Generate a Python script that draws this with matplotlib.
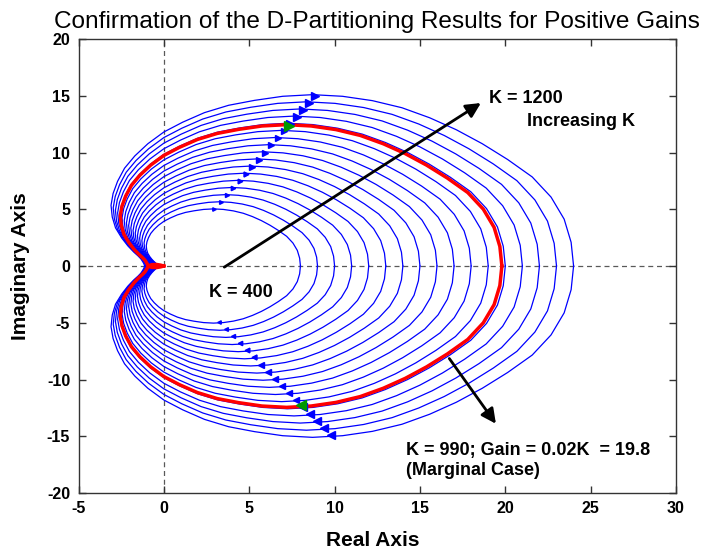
import matplotlib.pyplot as plt

plt.rcParams['font.family'] = ['Liberation Sans', 'DejaVu Sans']
plt.rcParams['axes.unicode_minus'] = False

# gains plotted: K = 400 ... 1200 in steps of 50, plus the marginal case
k_values = [400, 450, 500, 550, 600, 650, 700, 750, 800, 850, 900, 950,
            1000, 1050, 1100, 1150, 1200]
k_marginal = 990
gain_per_k = 0.02

# Nyquist locus, normalised by its DC gain (upper half,
# from the DC point round to the origin)
locus_re = [1.000, 0.994, 0.977, 0.945, 0.899, 0.839, 0.777, 0.714, 0.649,
            0.581, 0.509, 0.436, 0.363, 0.290, 0.221, 0.158, 0.099, 0.046,
            0.000, -0.039, -0.071, -0.096, -0.113, -0.124, -0.129, -0.126,
            -0.118, -0.103, -0.088, -0.074, -0.063, -0.056, -0.053, -0.049,
            -0.047, -0.036, -0.022, -0.010, 0.000]
locus_im = [0.000, 0.087, 0.172, 0.253, 0.327, 0.391, 0.449, 0.500, 0.544,
            0.581, 0.607, 0.623, 0.629, 0.623, 0.608, 0.590, 0.563, 0.528,
            0.492, 0.449, 0.404, 0.359, 0.311, 0.266, 0.223, 0.180,
            0.140, 0.103, 0.074, 0.052, 0.037, 0.026, 0.019, 0.009,
            0.000, -0.006, -0.007, -0.004, 0.000]

# direction arrows on each locus (normalised)
arrow_up = (0.370, 0.625)
arrow_down = (0.407, -0.620)

fig = plt.figure(figsize=(7.03, 5.54), dpi=100)
ax = fig.add_axes([0.1117, 0.1101, 0.8499, 0.8195])

ax.axhline(0, color='0.35', lw=0.9, dashes=(4, 3), zorder=1)
ax.axvline(0, color='0.35', lw=0.9, dashes=(4, 3), zorder=1)


def draw_locus(k, color, lw, mcolor, ms):
    g = gain_per_k * k
    re = [g * v for v in locus_re]
    im = [g * v for v in locus_im]
    ax.plot(re, im, color=color, lw=lw, zorder=2)
    ax.plot(re, [-v for v in im], color=color, lw=lw, zorder=2)
    ax.plot(g * arrow_up[0], g * arrow_up[1], marker='>', ms=ms,
            color=mcolor, mec=mcolor, zorder=4)
    ax.plot(g * arrow_down[0], g * arrow_down[1], marker='<', ms=ms,
            color=mcolor, mec=mcolor, zorder=4)


for k in k_values:
    draw_locus(k, 'blue', 0.9, 'blue', 2.5 + 3.5 * (k - 400) / 800)

draw_locus(k_marginal, 'red', 2.5, (0, 0.6, 0), 6.5)

# annotations
arrow_kw = dict(arrowstyle='-|>', color='black', lw=2, mutation_scale=22,
                shrinkA=0, shrinkB=0)
ax.annotate('', xy=(18.57, 14.36), xytext=(3.54, -0.1),
            arrowprops=arrow_kw, zorder=5)
ax.annotate('', xy=(19.45, -13.9), xytext=(16.72, -8.15),
            arrowprops=arrow_kw, zorder=5)

txt = dict(fontsize=13, fontweight='bold', va='baseline', ha='left')
ax.text(19.06, 14.39, 'K = 1200', **txt)
ax.text(21.3, 12.3, 'Increasing K', **txt)
ax.text(2.66, -2.71, 'K = 400', **txt)
ax.text(14.18, -16.68, 'K = 990; Gain = 0.02K  = 19.8', **txt)
ax.text(14.18, -18.45, '(Marginal Case)', **txt)

ax.set_xlim(-5, 30)
ax.set_ylim(-20, 20)
ax.set_xticks(range(-5, 31, 5))
ax.set_yticks(range(-20, 21, 5))
ax.tick_params(direction='in', top=True, right=True, length=5, width=1,
               labelsize=11.5, pad=6, color='0.2')
plt.setp(ax.get_xticklabels() + ax.get_yticklabels(), fontweight='bold')
for sp in ax.spines.values():
    sp.set_color('0.2')
    sp.set_linewidth(1)

fig.text(0.536, 0.9495, 'Confirmation of the D-Partitioning Results for Positive Gains',
         fontsize=17.6, ha='center', va='baseline')
fig.text(373 / 703, 1 - 540 / 554, 'Real Axis', fontsize=15, fontweight='bold',
         ha='center', va='center')
fig.text(21 / 703, 1 - 266 / 554, 'Imaginary Axis', fontsize=15,
         fontweight='bold', ha='center', va='center', rotation=90)

fig.savefig('out.png', dpi=100)
